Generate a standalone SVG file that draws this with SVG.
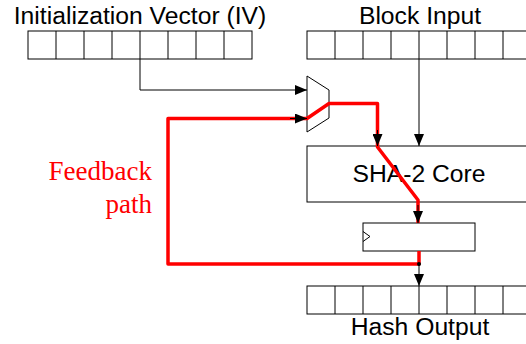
<svg xmlns="http://www.w3.org/2000/svg" width="526" height="344" viewBox="0 0 526 344">
<defs>
<style>
.lbl{font-family:"Liberation Sans",Arial,sans-serif;font-size:24.7px;fill:#000;text-anchor:middle}
.fb{font-family:"Liberation Serif","Times New Roman",serif;font-size:27px;fill:#f00;text-anchor:end}
.box{fill:#fff;stroke:#000;stroke-width:1}
.cell{fill:none;stroke:#000;stroke-width:1}
.wire{fill:none;stroke:#000;stroke-width:1}
.red{fill:none;stroke:#f00;stroke-width:3.5;stroke-linejoin:round}
</style>
<marker id="ah" markerWidth="12" markerHeight="10" refX="12" refY="5" orient="auto" markerUnits="userSpaceOnUse">
<path d="M0,0 L12,5 L0,10 z" fill="#000"/>
</marker>
</defs>
<rect width="526" height="344" fill="#fff"/>

<g id="iv">
<text class="lbl" x="140" y="24">Initialization Vector (IV)</text>
<rect class="cell" x="28" y="31" width="224" height="28"/>
<path class="cell" d="M56,31V59M84,31V59M112,31V59M140,31V59M168,31V59M196,31V59M224,31V59"/>
</g>

<g id="block-input">
<text class="lbl" x="420" y="24">Block Input</text>
<rect class="cell" x="307" y="31" width="230" height="28"/>
<path class="cell" d="M335,31V59M363,31V59M391,31V59M419,31V59M447,31V59M475,31V59M503,31V59"/>
</g>

<g id="mux">
<path class="box" d="M307,76 L329,90 L329,118 L307,132 Z"/>
</g>

<g id="sha2-core">
<rect class="box" x="307" y="146" width="230" height="56"/>
<text class="lbl" x="419" y="182">SHA-2 Core</text>
</g>

<g id="register">
<rect class="box" x="363" y="223" width="112" height="28"/>
<path class="wire" d="M363,231.5 L370,236.5 L363,241.5"/>
</g>

<g id="hash-output">
<rect class="cell" x="307" y="286" width="230" height="28"/>
<path class="cell" d="M335,286V314M363,286V314M391,286V314M419,286V314M447,286V314M475,286V314M503,286V314"/>
<text class="lbl" x="420" y="335">Hash Output</text>
</g>

<g id="feedback-label">
<text class="fb" x="152" y="180">Feedback</text>
<text class="fb" x="152" y="213">path</text>
</g>

<g id="connectors">
<path class="wire" d="M140,59 V90 H307" marker-end="url(#ah)"/>
<path class="wire" d="M419,59 V146" marker-end="url(#ah)"/>
<path class="red" d="M419,251 V264 H168 V118.5 H307 L329,103.5 H377.5 V147 L418,200 V223"/>
<path class="wire" d="M290,118.5 H307" marker-end="url(#ah)"/>
<path class="wire" d="M377.5,130 V146" marker-end="url(#ah)"/>
<path class="wire" d="M418,205 V223" marker-end="url(#ah)"/>
<path class="wire" d="M419,264 V286" marker-end="url(#ah)"/>
<circle cx="419" cy="264" r="2" fill="#000"/>
</g>
</svg>
